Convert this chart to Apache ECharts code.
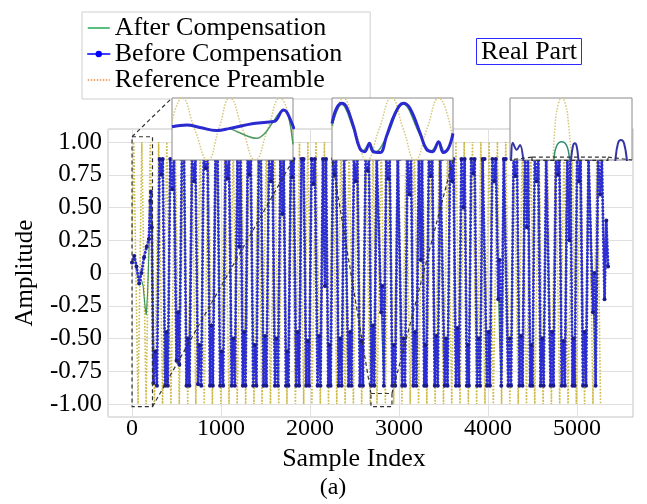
<!DOCTYPE html>
<html><head><meta charset="utf-8">
<script src="https://cdn.jsdelivr.net/npm/echarts@6/dist/echarts.min.js"></script>
<style>html,body{margin:0;padding:0;background:#fff}#c{width:647px;height:504px}</style>
</head><body><div id="c"></div>
<script>
const FONT = '"Liberation Serif","Times New Roman",serif';

// axis ranges / ticks
const sampleRange = [-270, 5630];
const ampRange = [-1, 1];
const ampStep = 0.25;

// legend names
const seriesNames = ['After Compensation', 'Before Compensation', 'Reference Preamble'];

// main curves: [sample index, amplitude] (vertices)
const beforeComp = [
[0,0.08],[25,0.13],[50,0.05],[80,-0.08],[105,0.0],[135,0.12],[165,0.2],[190,0.26],[205,0.55],[212,0.62],[222,0.35],
[240,-0.84],[262,-0.6],[280,-0.86],[310,0.87],[330,0.75],[345,0.87],[372,-0.86],[388,-0.45],[402,-0.86],[430,0.87],[452,0.64],[470,0.87],
[500,-0.67],[518,-0.3],[532,-0.7],[560,0.87],[585,0.87],[612,-0.86],[628,-0.5],[645,-0.86],[675,0.87],[698,0.7],[712,0.87],
[742,-0.85],[760,-0.55],[778,-0.86],[805,0.87],[830,0.8],[848,0.87],[876,-0.86],[892,-0.4],[908,-0.86],[938,0.87],[962,0.87],
[990,-0.86],[1008,-0.6],[1024,-0.86],[1052,0.87],[1075,0.72],[1090,0.87],[1120,-0.86],[1138,-0.5],[1155,-0.86],[1185,0.87],[1205,0.2],[1218,0.87],
[1245,-0.86],[1260,-0.45],[1275,-0.86],[1300,0.87],[1318,0.75],[1335,0.87],[1362,-0.86],[1380,-0.55],[1398,-0.86],[1425,0.87],[1448,0.87],
[1478,-0.86],[1495,-0.48],[1510,-0.86],[1540,0.87],[1560,0.7],[1578,0.87],[1606,-0.86],[1622,-0.5],[1640,-0.86],[1668,0.87],[1690,0.45],[1704,0.87],
[1730,-0.86],[1745,-0.6],[1758,-0.86],[1785,0.87],[1800,0.73],[1815,0.87],[1845,-0.86],[1862,-0.45],[1878,-0.86],[1905,0.87],[1928,0.87],
[1958,-0.86],[1975,-0.52],[1990,-0.86],[2018,0.87],[2040,0.68],[2055,0.87],[2085,-0.86],[2102,-0.48],[2118,-0.86],[2146,0.87],[2168,-0.1],[2180,0.87],
[2205,-0.86],[2218,-0.55],[2232,-0.86],[2258,0.87],[2278,0.75],[2293,0.87],[2322,-0.86],[2340,-0.5],[2356,-0.86],[2384,0.87],[2405,0.87],
[2434,-0.86],[2450,-0.45],[2466,-0.86],[2494,0.87],[2515,0.7],[2532,0.87],[2560,-0.86],[2578,-0.52],[2595,-0.86],[2625,0.87],[2648,0.78],[2662,0.87],
[2690,-0.86],[2706,-0.4],[2722,-0.86],[2750,0.87],[2772,0.87],[2800,-0.3],[2812,-0.1],[2830,-0.86],[2858,0.87],[2880,0.72],[2895,0.87],
[2925,-0.86],[2942,-0.55],[2958,-0.86],[2986,0.87],[3008,0.87],[3036,-0.86],[3052,-0.5],[3068,-0.86],[3096,0.87],[3118,0.6],[3135,0.87],
[3162,-0.86],[3180,-0.45],[3195,-0.86],[3224,0.87],[3246,0.1],[3258,0.87],[3284,-0.86],[3296,-0.55],[3308,-0.86],[3336,0.87],[3358,0.74],[3374,0.87],
[3402,-0.86],[3420,-0.48],[3436,-0.86],[3464,0.87],[3486,0.87],[3514,-0.86],[3530,-0.5],[3546,-0.86],[3575,0.87],[3596,0.7],[3612,0.87],
[3640,-0.86],[3658,-0.42],[3674,-0.86],[3702,0.87],[3724,0.5],[3738,0.87],[3762,-0.86],[3774,-0.55],[3786,-0.86],[3812,0.87],[3834,0.76],[3850,0.87],
[3878,-0.86],[3896,-0.5],[3912,-0.86],[3940,0.87],[3962,0.87],[3990,-0.86],[4006,-0.45],[4022,-0.86],[4050,0.87],[4072,0.7],[4088,0.87],
[4116,-0.2],[4130,0.1],[4150,-0.86],[4178,0.87],[4200,0.87],[4228,-0.86],[4245,-0.5],[4260,-0.86],[4288,0.87],[4310,0.74],[4326,0.87],
[4354,-0.86],[4372,-0.48],[4388,-0.86],[4416,0.87],[4438,0.35],[4450,0.87],[4475,-0.86],[4488,-0.55],[4500,-0.86],[4526,0.87],[4548,0.7],[4565,0.87],
[4592,-0.86],[4610,-0.5],[4626,-0.86],[4654,0.87],[4676,0.87],[4704,-0.86],[4720,-0.45],[4736,-0.86],[4764,0.87],[4786,0.75],[4802,0.87],
[4830,-0.86],[4848,-0.52],[4864,-0.86],[4892,0.87],[4914,0.25],[4926,0.87],[4950,-0.86],[4962,-0.5],[4974,-0.86],[5002,0.87],[5024,0.7],[5040,0.87],
[5068,-0.86],[5086,-0.45],[5102,-0.86],[5130,0.87],[5152,0.87],[5180,-0.3],[5195,0.0],[5210,-0.86],[5238,0.87],[5260,0.6],[5280,0.87],
[5310,-0.2],[5330,0.4],[5350,0.05]
];
const afterComp = [
[0,0.08],[25,0.12],[50,0.05],[80,-0.06],[105,-0.05],[125,-0.1],[150,-0.28],[160,-0.32],[175,-0.15],[195,0.26],[212,0.6],[222,0.3],
[240,-0.84],[280,-0.86],[310,0.87],[345,0.87],[372,-0.86],[402,-0.86],[430,0.87],[470,0.87],[500,-0.67],[532,-0.7],[560,0.87],[585,0.87],
[612,-0.86],[645,-0.86],[675,0.87],[712,0.87],[742,-0.85],[778,-0.86],[805,0.87],[848,0.87],[876,-0.86],[908,-0.86],[938,0.87],[962,0.87],
[990,-0.86],[1024,-0.86],[1052,0.87],[1090,0.87],[1120,-0.86],[1155,-0.86],[1185,0.87],[1218,0.87],[1245,-0.86],[1275,-0.86],[1300,0.87],[1335,0.87],
[1362,-0.86],[1398,-0.86],[1425,0.87],[1448,0.87],[1478,-0.86],[1510,-0.86],[1540,0.87],[1578,0.87],[1606,-0.86],[1640,-0.86],[1668,0.87],[1704,0.87],
[1730,-0.86],[1758,-0.86],[1785,0.87],[1815,0.87],[1845,-0.86],[1878,-0.86],[1905,0.87],[1928,0.87],[1958,-0.86],[1990,-0.86],[2018,0.87],[2055,0.87],
[2085,-0.86],[2118,-0.86],[2146,0.87],[2180,0.87],[2205,-0.86],[2232,-0.86],[2258,0.87],[2293,0.87],[2322,-0.86],[2356,-0.86],[2384,0.87],[2405,0.87],
[2434,-0.86],[2466,-0.86],[2494,0.87],[2532,0.87],[2560,-0.86],[2595,-0.86],[2625,0.87],[2662,0.87],[2690,-0.86],[2722,-0.86],[2750,0.87],[2772,0.87],
[2812,-0.5],[2830,-0.86],[2858,0.87],[2895,0.87],[2925,-0.86],[2958,-0.86],[2986,0.87],[3008,0.87],[3036,-0.86],[3068,-0.86],[3096,0.87],[3135,0.87],
[3162,-0.86],[3195,-0.86],[3224,0.87],[3258,0.87],[3284,-0.86],[3308,-0.86],[3336,0.87],[3374,0.87],[3402,-0.86],[3436,-0.86],[3464,0.87],[3486,0.87],
[3514,-0.86],[3546,-0.86],[3575,0.87],[3612,0.87],[3640,-0.86],[3674,-0.86],[3702,0.87],[3738,0.87],[3762,-0.86],[3786,-0.86],[3812,0.87],[3850,0.87],
[3878,-0.86],[3912,-0.86],[3940,0.87],[3962,0.87],[3990,-0.86],[4022,-0.86],[4050,0.87],[4088,0.87],[4130,-0.5],[4150,-0.86],[4178,0.87],[4200,0.87],
[4228,-0.86],[4260,-0.86],[4288,0.87],[4326,0.87],[4354,-0.86],[4388,-0.86],[4416,0.87],[4450,0.87],[4475,-0.86],[4500,-0.86],[4526,0.87],[4565,0.87],
[4592,-0.86],[4626,-0.86],[4654,0.87],[4676,0.87],[4704,-0.86],[4736,-0.86],[4764,0.87],[4802,0.87],[4830,-0.86],[4864,-0.86],[4892,0.87],[4926,0.87],
[4950,-0.86],[4974,-0.86],[5002,0.87],[5040,0.87],[5068,-0.86],[5102,-0.86],[5130,0.87],[5152,0.87],[5195,-0.5],[5210,-0.86],[5238,0.87],[5280,0.87],
[5310,-0.2],[5330,0.4],[5350,0.05]
];
const refPreamble = [
[0,0.25],[19,1],[68,-1],[110,1],[158,-1],[205,1],[252,-1],[299,1],[343,-1],[391,1],[437,-1],[486,1],[531,-1],[578,1],[626,-1],[671,1],
[717,-1],[766,1],[811,-1],[858,1],[903,-1],[951,1],[998,-1],[1042,1],[1090,-1],[1137,1],[1182,-1],[1229,1],[1277,-1],[1322,1],[1370,-1],
[1416,1],[1461,-1],[1509,1],[1556,-1],[1602,1],[1649,-1],[1697,1],[1741,-1],[1788,1],[1836,-1],[1882,1],[1929,-1],[1976,1],[2021,-1],
[2068,1],[2116,-1],[2162,1],[2208,-1],[2256,1],[2301,-1],[2349,1],[2395,-1],[2440,1],[2488,-1],[2535,1],[2581,-1],[2628,1],[2676,-1],
[2707,1],[2753,-1],[2801,1],[2847,-1],[2893,1],[2940,-1],[2986,1],[3033,-1],[3080,1],[3126,-1],[3173,1],[3220,-1],[3266,1],[3313,-1],
[3360,1],[3406,-1],[3453,1],[3500,-1],[3546,1],[3593,-1],[3640,1],[3686,-1],[3733,1],[3780,-1],[3826,1],[3873,-1],[3920,1],[3966,-1],
[4013,1],[4060,-1],[4106,1],[4153,-1],[4200,1],[4246,-1],[4293,1],[4340,-1],[4386,1],[4433,-1],[4480,1],[4526,-1],[4573,1],[4620,-1],
[4666,1],[4713,-1],[4760,1],[4806,-1],[4856,1],[4900,-1],[4946,1],[4993,-1],[5040,1],[5086,-1],[5133,1],[5180,-1],[5226,1],[5265,-1]
];

// zoom windows on the main axes: [xMin, xMax, yMin, yMax]
const zoomWindows = [[0,230,-1.02,1.04],[2685,2921,-1.02,-0.92],[4494,5348,0.86,0.885]];
const insetYRanges = [[-1,1],[-1,1],[0.86,1.0]];

// inset 1 curves
const inset1Before = [[0,0.07],[28,0.13],[53,0.05],[85,-0.05],[110,0.02],[155,0.18],[193,0.24],[198,0.28],[212,0.61],[218,0.55],[228,0.18],[232,0.0]];
const inset1After  = [[0,0.07],[28,0.12],[53,0.04],[85,-0.06],[110,0.0],[124,-0.09],[161,-0.3],[176,-0.15],[193,0.25],[212,0.6],[220,0.5],[230,-0.5]];
const inset1Ref    = [[0,0.25],[19,1],[43,0],[68,-1],[89,0],[110,1],[134,0],[158,-1],[182,0],[205,1],[230,-0.1]];
// inset 2 curves
const inset2Before = [[2685,0.18],[2694,0.67],[2704,0.83],[2713,0.72],[2727,0.07],[2739,-0.62],[2749,-0.73],[2758,-0.46],[2765,-0.73],[2779,-0.76],
  [2791,-0.25],[2808,0.5],[2824,0.83],[2837,0.67],[2857,-0.14],[2869,-0.65],[2881,-0.73],[2893,-0.41],[2902,-0.76],[2912,-0.62],[2921,-0.14]];
const inset2After  = [[2685,0.1],[2704,0.8],[2727,0.0],[2745,-0.72],[2758,-0.5],[2770,-0.75],[2790,-0.3],[2824,0.8],[2857,-0.2],[2878,-0.72],[2893,-0.45],[2905,-0.74],[2921,-0.2]];
const inset2Ref    = [[2685,0],[2707,1],[2730,0],[2753,-1],[2777,0],[2801,1],[2824,0],[2847,-1],[2870,0],[2893,1],[2921,-0.36]];
// inset 3 curves
const inset3Before = [[4494,0.84],[4501,0.86],[4513,0.899],[4541,0.883],[4564,0.894],[4587,0.86],[4600,0.8],[4910,0.8],[4921,0.86],[4935,0.892],
  [4947,0.898],[4960,0.892],[4973,0.86],[4985,0.8],[5220,0.8],[5232,0.86],[5250,0.898],[5271,0.905],[5292,0.898],[5312,0.86],[5325,0.8]];
const inset3After  = [[4790,0.8],[4801,0.86],[4818,0.89],[4856,0.901],[4894,0.89],[4911,0.86],[4920,0.8]];
const inset3Ref    = [[4793,0.84],[4810,0.94],[4831,0.985],[4856,1.0],[4883,0.985],[4904,0.94],[4930,0.84]];

const insetBoxes = [ {left:172, top:98, width:121, height:62}, {left:332, top:98, width:121, height:62}, {left:510, top:98, width:122, height:62} ];

const C_BLUE = '#2c2cd2', C_BLUE_DOT = '#1b1b8e', C_GREEN = '#3a8f52', C_REF = '#cdbb48';

const chart = echarts.init(document.getElementById('c'));
const txt = (size) => ({fontFamily: FONT, fontSize: size, color: '#000', fontWeight: 'normal'});

const grids = [
  {left:108, right:14, top:142, bottom:100},
  {left:108, right:14, top:129, bottom:87, show:true, borderColor:'#c4c4c4', borderWidth:1, backgroundColor:'rgba(0,0,0,0)'}
];
insetBoxes.forEach(b => grids.push(Object.assign({show:true, borderColor:'#8a8a8a', borderWidth:1, backgroundColor:'#fff', z:10}, b)));

const xAxes = [
  {gridIndex:0, type:'value', min:sampleRange[0], max:sampleRange[1], show:false},
  {gridIndex:1, type:'value', min:sampleRange[0], max:sampleRange[1],
   axisLine:{show:false}, axisTick:{show:false},
   splitLine:{show:true, lineStyle:{color:'#e0e0e0', width:1}},
   axisLabel:Object.assign({showMinLabel:false, showMaxLabel:false, margin:0, formatter: v => String(v)}, txt(24)),
   name:'Sample Index', nameLocation:'middle', nameGap:13,
   nameTextStyle:Object.assign({padding:[0,33,0,0]}, txt(26))}
];
const yAxes = [
  {gridIndex:0, type:'value', min:ampRange[0], max:ampRange[1], interval:ampStep,
   axisLine:{show:false}, axisTick:{show:false},
   splitLine:{show:true, lineStyle:{color:'#e0e0e0', width:1}},
   axisLabel:Object.assign({margin:6, formatter: v => v === 0 ? '0' : v.toFixed(2)}, txt(25)),
   name:'Amplitude', nameLocation:'middle', nameGap:70, nameTextStyle:txt(25)},
  {gridIndex:1, type:'value', min:-1.1, max:1.1, show:false}
];
zoomWindows.forEach((w, i) => {
  xAxes.push({gridIndex:i+2, type:'value', min:w[0], max:w[1], show:false});
  yAxes.push({gridIndex:i+2, type:'value', min:insetYRanges[i][0], max:insetYRanges[i][1], show:false});
});

const series = [
  {name:seriesNames[2], type:'line', data:refPreamble, symbol:'none', z:2,
   lineStyle:{color:C_REF, width:1.6, type:'dotted'}, itemStyle:{color:C_REF}},
  {name:seriesNames[0], type:'line', data:afterComp, symbol:'none', z:3,
   lineStyle:{color:C_GREEN, width:1.1}, itemStyle:{color:C_GREEN}},
  {name:seriesNames[1], type:'line', data:beforeComp, symbol:'circle', symbolSize:4, showSymbol:true, z:4,
   lineStyle:{color:C_BLUE, width:3, type:[0.1, 3.4], cap:'round'}, itemStyle:{color:C_BLUE_DOT}}
];
const insetData = [[inset1Ref, inset1After, inset1Before],[inset2Ref, inset2After, inset2Before],[inset3Ref, inset3After, inset3Before]];
insetData.forEach((d, i) => {
  const ax = i + 2;
  series.push({name:seriesNames[2], type:'line', xAxisIndex:ax, yAxisIndex:ax, data:d[0], symbol:'none', smooth:0.5, z:12,
    lineStyle:{color:'#d6c77c', width:1.5, type:'dotted'}});
  series.push({name:seriesNames[0], type:'line', xAxisIndex:ax, yAxisIndex:ax, data:d[1], symbol:'none', smooth:0.4, z:13,
    lineStyle:{color: i===2 ? '#2f8f6f' : '#4f9a5f', width:1.5}});
  series.push({name:seriesNames[1], type:'line', xAxisIndex:ax, yAxisIndex:ax, data:d[2], symbol:'none', smooth:0.4, z:14,
    lineStyle:{color: i===2 ? '#3434a8' : '#2a2ad0', width: i===2 ? 2 : 3}});
});

chart.setOption({
  animation:false,
  backgroundColor:'#fff',
  title:{text:'Real Part', left:476, top:40, padding:[1,5,0,5], borderColor:'#2b2bff', borderWidth:1,
         textStyle:Object.assign({lineHeight:22}, txt(26))},
  legend:{orient:'vertical', left:82, top:12, padding:[3,28,6,5], itemGap:0, itemWidth:22, itemHeight:8,
          borderColor:'#cfcfcf', borderWidth:1, backgroundColor:'#fff',
          textStyle:Object.assign({lineHeight:24}, txt(26)),
          data:[
            {name:seriesNames[0], lineStyle:{color:'#22aa55', width:1.5, type:'solid'}, itemStyle:{opacity:0}},
            {name:seriesNames[1], lineStyle:{color:'#0000ff', width:1.5, type:'solid'}, itemStyle:{color:'#0000ff'}},
            {name:seriesNames[2], lineStyle:{color:'#f0883a', width:1.5, type:'dotted'}, itemStyle:{opacity:0}}
          ]},
  grid:grids, xAxis:xAxes, yAxis:yAxes, series:series
});

// dashed zoom rectangles and connector lines, placed through the axes' own scales
const g = [];
const dash = {stroke:'#333', lineWidth:1.2, lineDash:[4,3], fill:null};
zoomWindows.forEach((w, i) => {
  const p0 = chart.convertToPixel({xAxisIndex:0, yAxisIndex:0}, [w[0], w[3]]);
  const p1 = chart.convertToPixel({xAxisIndex:0, yAxisIndex:0}, [w[1], w[2]]);
  const ax = i + 2;
  const yr = insetYRanges[i];
  const tl = chart.convertToPixel({xAxisIndex:ax, yAxisIndex:ax}, [w[0], yr[1]]);
  const br = chart.convertToPixel({xAxisIndex:ax, yAxisIndex:ax}, [w[1], yr[0]]);
  g.push({type:'rect', z:20, silent:true, shape:{x:p0[0], y:p0[1], width:p1[0]-p0[0], height:p1[1]-p0[1]}, style:dash});
  if (i === 0) {
    g.push({type:'line', z:20, silent:true, shape:{x1:p0[0], y1:p0[1], x2:tl[0], y2:tl[1]}, style:dash});
    g.push({type:'line', z:20, silent:true, shape:{x1:p1[0], y1:p1[1], x2:br[0], y2:br[1]}, style:dash});
  } else {
    g.push({type:'line', z:20, silent:true, shape:{x1:p0[0], y1:p0[1], x2:tl[0], y2:br[1]}, style:dash});
    g.push({type:'line', z:20, silent:true, shape:{x1:p1[0], y1:p0[1], x2:br[0], y2:br[1]}, style:dash});
  }
});
g.push({type:'text', z:20, x:333, y:488, style:{text:'(a)', font:'24px "Liberation Serif"', fill:'#000', align:'center', verticalAlign:'middle', textAlign:'center', textVerticalAlign:'middle'}});
chart.setOption({graphic:g});
</script>
</body></html>
